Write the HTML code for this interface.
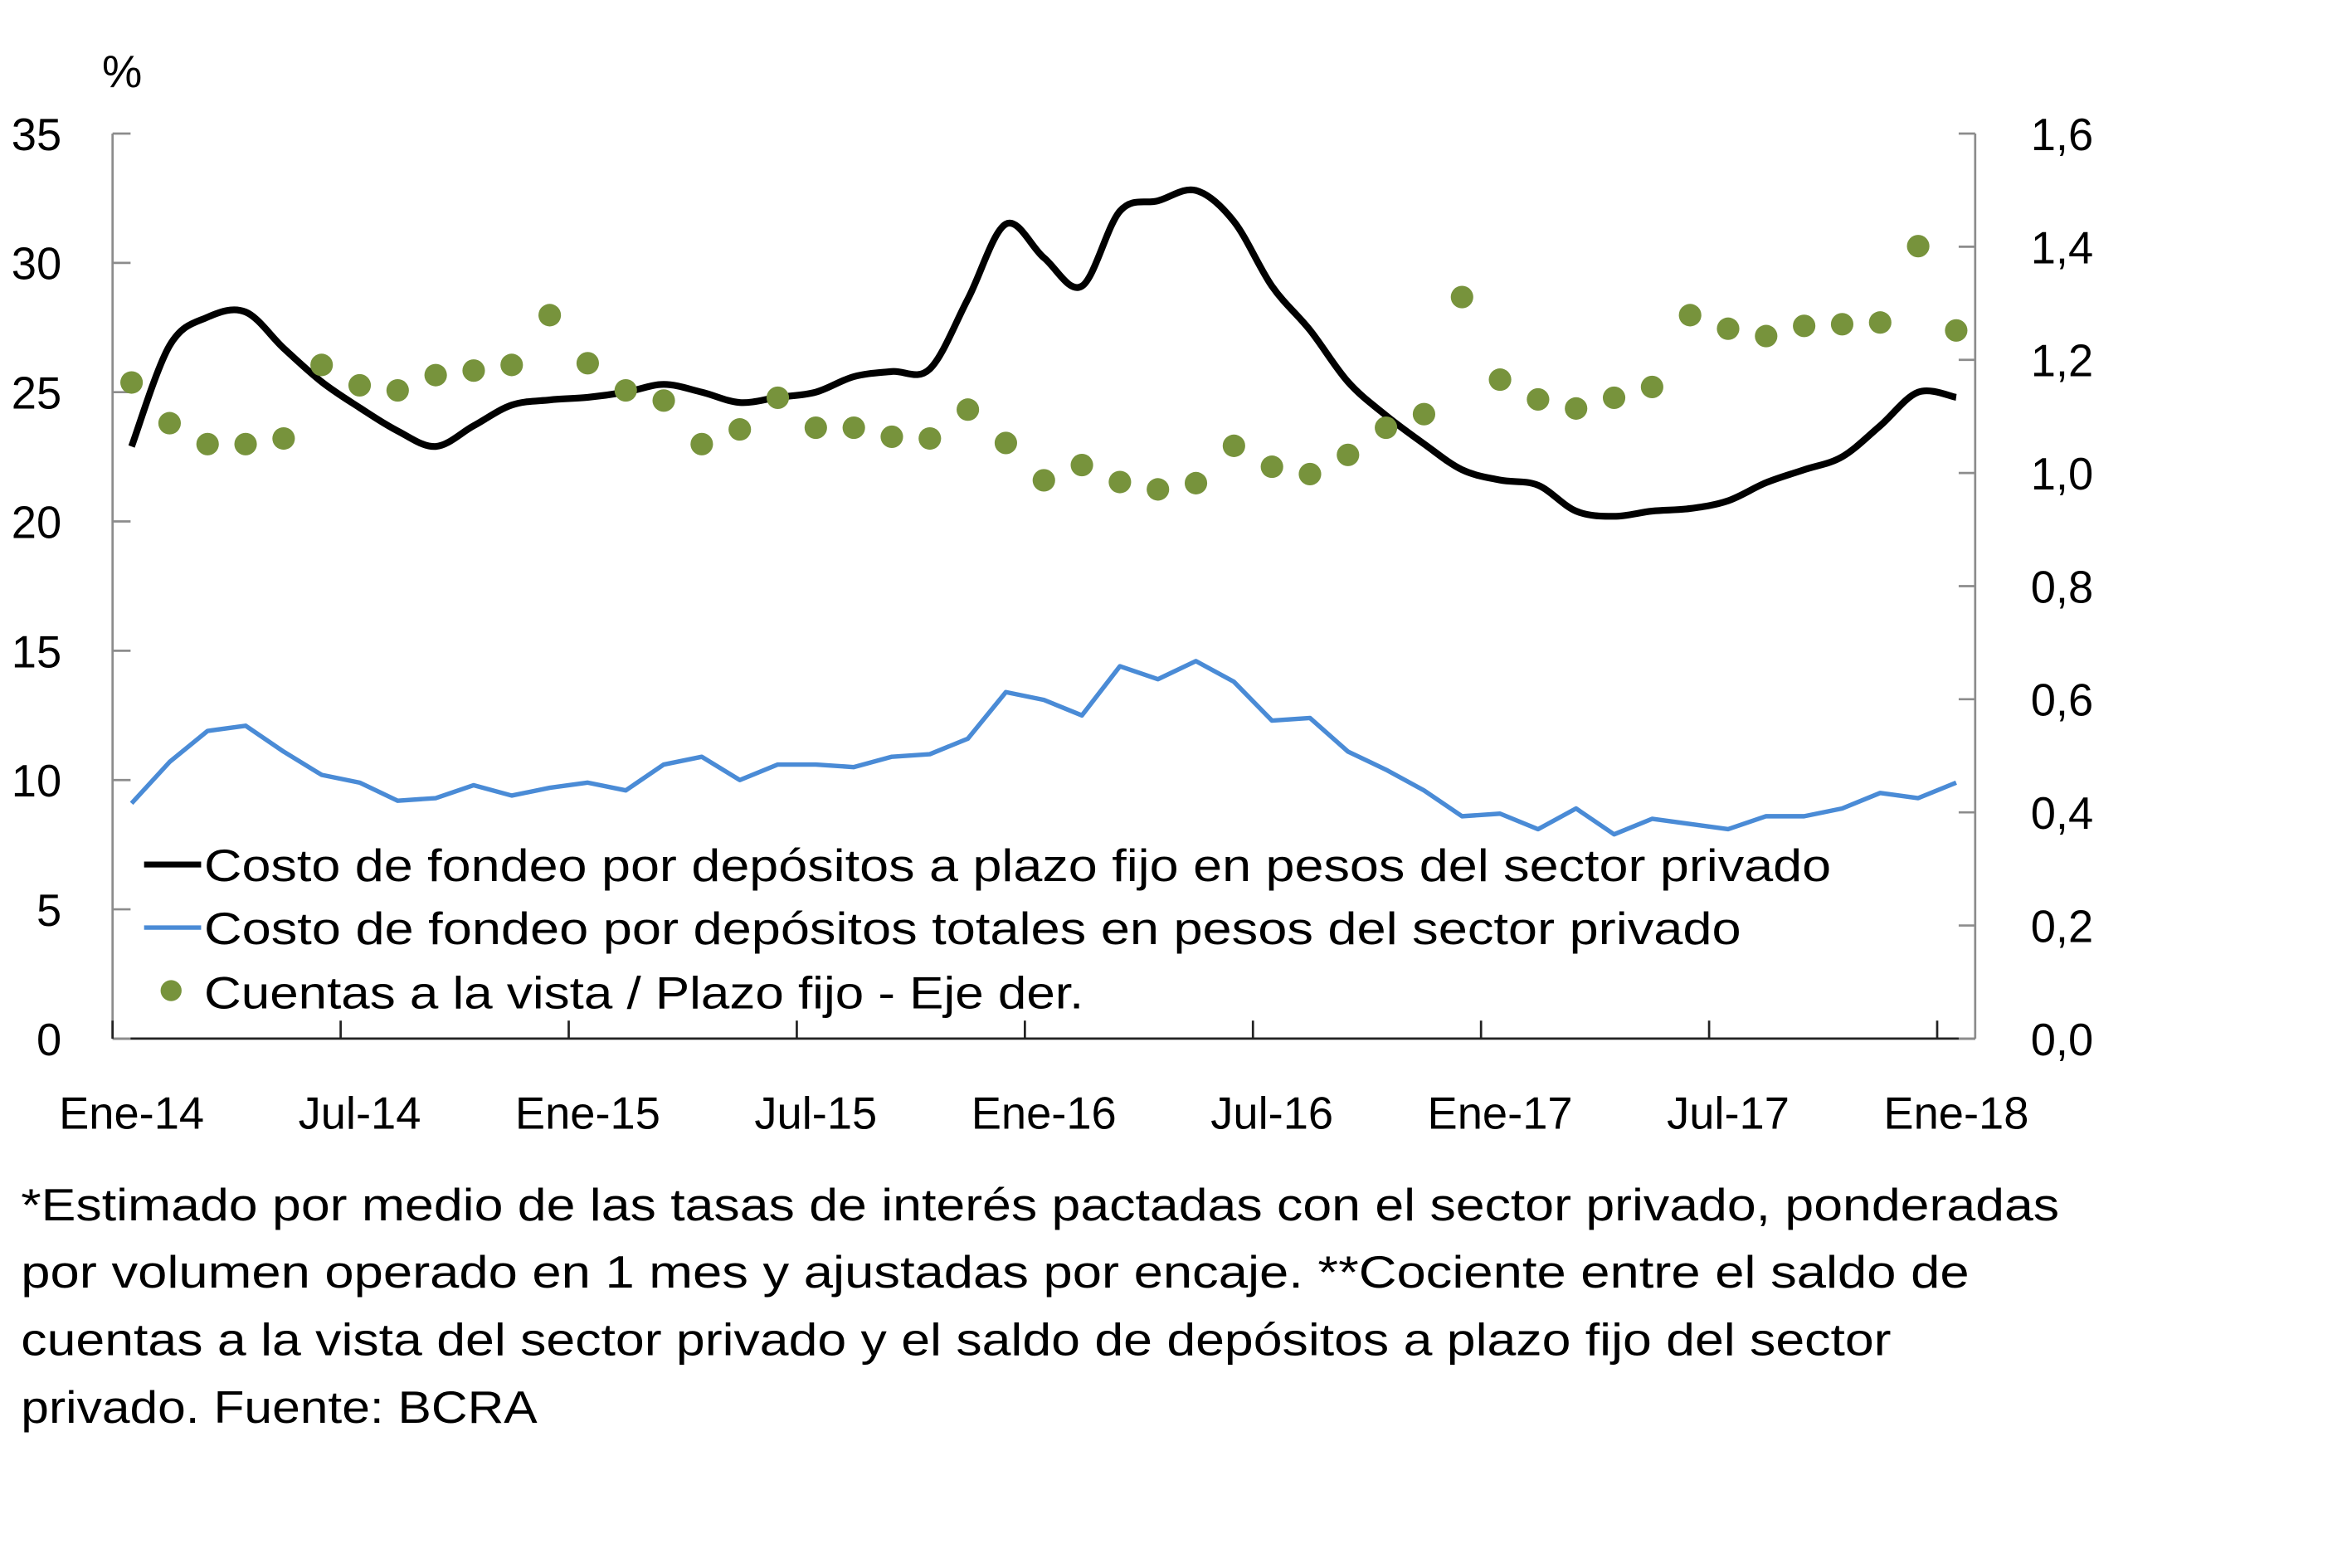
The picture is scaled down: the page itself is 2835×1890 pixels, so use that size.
<!DOCTYPE html>
<html><head><meta charset="utf-8"><style>
html,body{margin:0;padding:0;background:#fff;}
svg{display:block;}
text{font-family:"Liberation Sans",sans-serif;fill:#000;}
</style></head><body>
<svg id="chart" width="2835" height="1890" viewBox="0 0 1560 1040" preserveAspectRatio="none" xmlns="http://www.w3.org/2000/svg">
<g id="root" transform="scale(0.9955)">
<g id="axes"></g>
<g id="series"></g>
<g id="legend">
  <line x1="96" y1="576" x2="134" y2="576" stroke="#000" stroke-width="4"/>
  <text x="136" y="587" font-size="30" textLength="1084" lengthAdjust="spacingAndGlyphs">Costo de fondeo por depósitos a plazo fijo en pesos del sector privado</text>
  <line x1="96" y1="618" x2="134" y2="618" stroke="#4a8bd6" stroke-width="3"/>
  <text x="136" y="629" font-size="30" textLength="1024" lengthAdjust="spacingAndGlyphs">Costo de fondeo por depósitos totales en pesos del sector privado</text>
  <circle cx="114" cy="660" r="7" fill="#77933c"/>
  <text x="136" y="672" font-size="30" textLength="586" lengthAdjust="spacingAndGlyphs">Cuentas a la vista / Plazo fijo - Eje der.</text>
</g>
<g id="footnote" font-size="30">
  <text x="14" y="813" font-size="30" textLength="1358" lengthAdjust="spacingAndGlyphs">*Estimado por medio de las tasas de interés pactadas con el sector privado, ponderadas</text>
  <text x="14" y="858" font-size="30" textLength="1298" lengthAdjust="spacingAndGlyphs">por volumen operado en 1 mes y ajustadas por encaje. **Cociente entre el saldo de</text>
  <text x="14" y="903" font-size="30" textLength="1246" lengthAdjust="spacingAndGlyphs">cuentas a la vista del sector privado y el saldo de depósitos a plazo fijo del sector</text>
  <text x="14" y="948" font-size="30" textLength="344" lengthAdjust="spacingAndGlyphs">privado. Fuente: BCRA</text>
</g>
</g>
</svg>
<script>
const categories = [];
const years = ['14','15','16','17','18'];
const monthNames = ['Ene','Feb','Mar','Abr','May','Jun','Jul','Ago','Sep','Oct','Nov','Dic'];
for (let i = 0; i < 49; i++) categories.push(monthNames[i % 12] + '-' + years[Math.floor(i / 12)]);
const plazoFijo = [22.9,26.8,27.9,28.1,26.7,25.4,24.4,23.5,22.9,23.7,24.5,24.7,24.8,25.0,25.3,25.0,24.6,24.8,25.0,25.6,25.8,25.9,28.6,31.5,30.2,29.1,32.0,32.4,32.8,31.6,29.1,27.4,25.4,24.1,23.0,22.0,21.6,21.4,20.4,20.2,20.4,20.5,20.8,21.5,22.0,22.5,23.7,25.0,24.8];
const totales = [9.1,10.7,11.9,12.1,11.1,10.2,9.9,9.2,9.3,9.8,9.4,9.7,9.9,9.6,10.6,10.9,10.0,10.6,10.6,10.5,10.9,11.0,11.6,13.4,13.1,12.5,14.4,13.9,14.6,13.8,12.3,12.4,11.1,10.4,9.6,8.6,8.7,8.1,8.9,7.9,8.5,8.3,8.1,8.6,8.6,8.9,9.5,9.3,9.9];
const ratio = [1.16,1.088,1.051,1.051,1.061,1.191,1.155,1.146,1.173,1.181,1.191,1.279,1.194,1.146,1.128,1.051,1.077,1.133,1.080,1.080,1.064,1.061,1.112,1.053,0.987,1.014,0.984,0.971,0.982,1.048,1.011,0.998,1.032,1.080,1.104,1.311,1.165,1.130,1.114,1.133,1.152,1.279,1.255,1.242,1.260,1.263,1.266,1.401,1.252];
const leftTicks = ['0','5','10','15','20','25','30','35'];
const rightTicks = ['0,0','0,2','0,4','0,6','0,8','1,0','1,2','1,4','1,6'];

const NS = 'http://www.w3.org/2000/svg';
const L = 75, R = 1316, T = 89, B = 692;
const band = (R - L) / categories.length;
const x = i => L + band * (i + 0.5);
const yL = v => B - (v / 35) * (B - T);
const yR = v => B - (v / 1.6) * (B - T);
function mk(tag, attrs, parent) { const e = document.createElementNS(NS, tag); for (const k in attrs) e.setAttribute(k, attrs[k]); parent.appendChild(e); return e; }
const axes = document.getElementById('axes');
const series = document.getElementById('series');

let e;
e = mk('line', {x1:L, y1:T, x2:L, y2:B, stroke:'#8c8c8c', 'stroke-width':1.5}, axes);


e = mk('line', {x1:R, y1:T, x2:R, y2:B, stroke:'#8c8c8c', 'stroke-width':1.5}, axes);


e = mk('line', {x1:L, y1:B, x2:R, y2:B, stroke:'#222', 'stroke-width':1.5}, axes);



leftTicks.forEach((t) => {
  const v = parseFloat(t), y = yL(v);
  const tk = mk('line', {x1:L, y1:y, x2:L + 12, y2:y, stroke:'#8c8c8c', 'stroke-width':1.5}, axes);
  
  
  const tx = mk('text', {x:41, y:y + 11, 'font-size':30, 'text-anchor':'end'}, axes);
  tx.textContent = t;
  
  
});
rightTicks.forEach((t) => {
  const v = parseFloat(t.replace(',', '.')), y = yR(v);
  const tk = mk('line', {x1:R - 11, y1:y, x2:R, y2:y, stroke:'#8c8c8c', 'stroke-width':1.5}, axes);
  
  
  const tx = mk('text', {x:1353, y:y + 11, 'font-size':30}, axes);
  tx.textContent = t;
  
  
});
for (let i = 0; i < categories.length; i += 6) {
  const bx = L + band * i;
  const tk = mk('line', {x1:bx, y1:B, x2:bx, y2:B - 12, stroke:'#222', 'stroke-width':1.5}, axes);
  
  
  const tx = mk('text', {x:x(i), y:752, 'font-size':30, 'text-anchor':'middle'}, axes);
  tx.textContent = categories[i];
  
  
}
const pct = mk('text', {x:68, y:58, 'font-size':30}, axes);
pct.textContent = '%';



function smoothPath(pts) {
  let d = 'M' + pts[0][0] + ',' + pts[0][1];
  for (let i = 0; i < pts.length - 1; i++) {
    const p0 = pts[i - 1] || pts[i], p1 = pts[i], p2 = pts[i + 1], p3 = pts[i + 2] || p2;
    const c1x = p1[0] + (p2[0] - p0[0]) / 6, c1y = p1[1] + (p2[1] - p0[1]) / 6;
    const c2x = p2[0] - (p3[0] - p1[0]) / 6, c2y = p2[1] - (p3[1] - p1[1]) / 6;
    d += ' C' + c1x + ',' + c1y + ' ' + c2x + ',' + c2y + ' ' + p2[0] + ',' + p2[1];
  }
  return d;
}
const blue = mk('polyline', {points: totales.map((v, i) => x(i) + ',' + yL(v)).join(' '), fill:'none', stroke:'#4a8bd6', 'stroke-width':3, 'stroke-linejoin':'round'}, series);


const black = mk('path', {d: smoothPath(plazoFijo.map((v, i) => [x(i), yL(v)])), fill:'none', stroke:'#000', 'stroke-width':4.5, 'stroke-linejoin':'round'}, series);


ratio.forEach((v, i) => {
  const c = mk('circle', {cx:x(i), cy:yR(v), r:7.5, fill:'#77933c'}, series);
  
  
});
</script>
</body></html>
